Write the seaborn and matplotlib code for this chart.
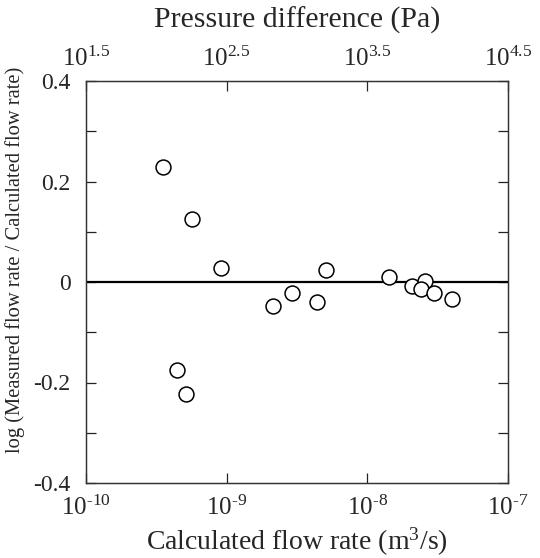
import numpy as np
import pandas as pd
import matplotlib
matplotlib.use("Agg")
import matplotlib.pyplot as plt
import seaborn as sns
from matplotlib.ticker import FixedLocator, NullLocator, FixedFormatter

sns.set_theme(style="ticks")
plt.rcParams['font.family'] = ['Liberation Serif', 'DejaVu Serif']
plt.rcParams['mathtext.fontset'] = 'custom'
plt.rcParams['mathtext.rm'] = 'Liberation Serif'
plt.rcParams['mathtext.it'] = 'Liberation Serif:italic'

# Data (log10 of calculated flow rate, log ratio)
log_flow = [-9.450, -9.249, -9.042, -8.668, -8.538, -8.356, -8.294, -9.355, -9.291,
            -7.844, -7.685, -7.588, -7.619, -7.524, -7.400]
log_ratio = [0.2295, 0.1254, 0.0279, -0.0472, -0.0225, -0.0404, 0.0239, -0.175, -0.223,
             0.0094, -0.007, 0.001, -0.014, -0.021, -0.034]

flow = [10 ** v for v in log_flow]
df = pd.DataFrame({"flow": flow, "ratio": log_ratio})

bottom_ticks = [1e-10, 1e-9, 1e-8, 1e-7]
bottom_labels = [r"10$^{\text{-}10}$", r"10$^{\text{-}9}$", r"10$^{\text{-}8}$", r"10$^{\text{-}7}$"]
top_ticks = [10 ** 1.5, 10 ** 2.5, 10 ** 3.5, 10 ** 4.5]
top_labels = ["10$^{1.5}$", "10$^{2.5}$", "10$^{3.5}$", "10$^{4.5}$"]
y_ticks = [-0.4, -0.2, 0, 0.2, 0.4]
y_labels = ["-0.4", "-0.2", "0", "0.2", "0.4"]

fig = plt.figure(figsize=(5.4, 5.58), dpi=100)
ax = fig.add_axes([86 / 540, 1 - 483 / 558, 422 / 540, 402 / 558])

ax.axhline(0, color="black", lw=1.6, zorder=1)
sns.scatterplot(data=df, x="flow", y="ratio", ax=ax, marker="o", s=115,
                facecolor="white", edgecolor="black", linewidth=1.1, zorder=3)
ax.set_xscale("log")
ax.set_xlim(1e-10, 1e-7)
ax.set_ylim(-0.4, 0.4)

ax.xaxis.set_major_locator(FixedLocator(bottom_ticks))
ax.xaxis.set_major_formatter(FixedFormatter(bottom_labels))
ax.xaxis.set_minor_locator(NullLocator())
ax.yaxis.set_major_locator(FixedLocator(y_ticks))
ax.yaxis.set_major_formatter(FixedFormatter(y_labels))
ax.yaxis.set_minor_locator(FixedLocator([-0.3, -0.1, 0.1, 0.3]))
ax.tick_params(axis="both", which="both", direction="in", width=0.9, color="#222222")
ax.tick_params(axis="x", which="major", labelsize=18, length=7, pad=9)
ax.tick_params(axis="y", which="major", labelsize=17, length=7, pad=11)
ax.tick_params(axis="y", which="minor", length=7)
ax.tick_params(axis="y", which="both", right=True)
for sp in ax.spines.values():
    sp.set_linewidth(0.9)
    sp.set_color("#333333")

ax.set_xlabel("Calculated flow rate (m$^3$/s)", fontsize=20, labelpad=4)
ax.set_ylabel("log (Measured flow rate / Calculated flow rate)", fontsize=14.8)
ax.yaxis.set_label_coords(-0.145, 0.555)

top = ax.twiny()
top.set_xscale("log")
top.set_xlim(10 ** 1.5, 10 ** 4.5)
top.xaxis.set_major_locator(FixedLocator(top_ticks))
top.xaxis.set_major_formatter(FixedFormatter(top_labels))
top.xaxis.set_minor_locator(NullLocator())
top.tick_params(axis="x", which="major", direction="in", length=7, labelsize=18, pad=7, width=0.9)
top.set_xlabel("Pressure difference (Pa)", fontsize=21.5, labelpad=14)
for sp in top.spines.values():
    sp.set_linewidth(0.9)
    sp.set_color("#333333")

fig.savefig("out.png", dpi=100)
